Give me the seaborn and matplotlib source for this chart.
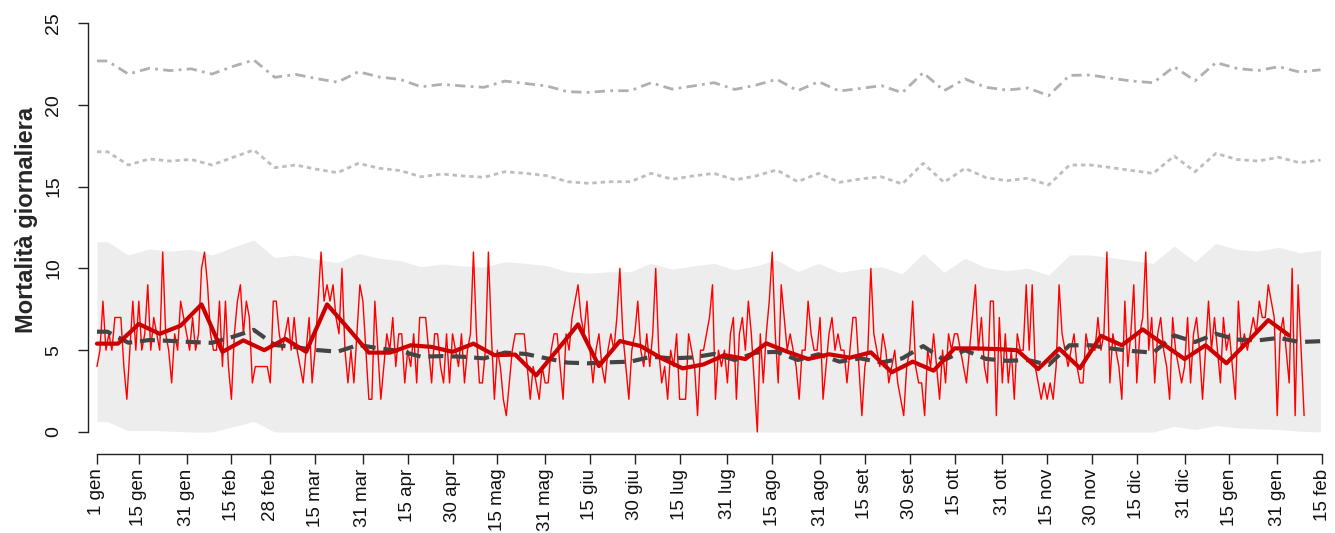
import numpy as np
import pandas as pd
import matplotlib
matplotlib.use("Agg")
import matplotlib.pyplot as plt
import seaborn as sns

# Daily death counts from 1 January to early February of the following year
daily_deaths = [
    4, 5, 8, 5, 6, 5, 7, 7, 7, 4,
    2, 5, 8, 5, 8, 5, 6, 9, 5, 7,
    6, 5, 11, 6, 5, 3, 6, 5, 8, 7,
    6, 5, 7, 5, 6, 10, 11, 9, 6, 5,
    5, 8, 4, 8, 4, 2, 6, 8, 9, 6,
    8, 7, 3, 4, 4, 4, 4, 4, 3, 8,
    8, 6, 5, 6, 7, 5, 7, 5, 4, 3,
    5, 7, 3, 5, 8, 11, 8, 9, 8, 9,
    7, 6, 10, 5, 3, 5, 3, 6, 9, 8,
    5, 2, 2, 8, 5, 2, 4, 6, 5, 7,
    4, 6, 6, 3, 5, 4, 6, 3, 7, 7,
    7, 5, 3, 6, 6, 4, 3, 6, 3, 6,
    5, 4, 6, 3, 5, 6, 11, 6, 3, 3,
    5, 11, 6, 2, 5, 4, 2, 1, 3, 5,
    6, 6, 6, 6, 4, 2, 4, 3, 2, 4,
    3, 3, 5, 6, 6, 4, 2, 6, 5, 7,
    8, 9, 7, 6, 8, 5, 3, 5, 6, 4,
    3, 5, 6, 5, 7, 10, 6, 4, 2, 5,
    6, 8, 5, 4, 6, 4, 6, 10, 5, 3,
    4, 2, 5, 4, 6, 2, 2, 2, 6, 5,
    4, 1, 5, 5, 6, 7, 9, 2, 5, 4,
    5, 3, 6, 7, 2, 6, 7, 5, 8, 6,
    3, 0, 6, 3, 6, 8, 11, 6, 3, 9,
    7, 5, 6, 5, 4, 2, 5, 5, 8, 6,
    5, 5, 7, 2, 4, 6, 7, 5, 6, 5,
    5, 3, 5, 7, 7, 4, 1, 4, 5, 10,
    6, 5, 4, 6, 5, 3, 4, 5, 3, 2,
    1, 4, 5, 8, 4, 3, 3, 1, 5, 4,
    6, 4, 2, 5, 3, 6, 5, 6, 6, 5,
    4, 3, 5, 7, 9, 5, 7, 4, 3, 8,
    8, 1, 7, 3, 6, 3, 5, 2, 6, 5,
    5, 9, 5, 9, 4, 3, 2, 3, 2, 3,
    2, 4, 9, 6, 5, 4, 5, 6, 4, 3,
    3, 6, 5, 5, 5, 7, 5, 6, 11, 3,
    6, 5, 4, 2, 8, 4, 6, 9, 3, 6,
    7, 11, 5, 7, 3, 6, 7, 5, 4, 2,
    7, 5, 4, 3, 4, 7, 3, 6, 7, 5,
    2, 5, 8, 5, 7, 5, 3, 7, 5, 6,
    4, 2, 8, 5, 6, 5, 6, 7, 6, 8,
    7, 7, 9, 8, 7, 1, 6, 7, 5, 3,
    10, 1, 9, 5, 1,
]

# Weekly mean of the daily counts (one value every 7 days)
weekly_mean = [
    5.4, 5.4, 6.6, 6.0, 6.5, 7.8, 4.9, 5.6, 5.0, 5.7,
    4.9, 7.8, 6.35, 4.85, 4.85, 5.3, 5.2, 4.9, 5.4, 4.7,
    4.73, 3.46, 5.0, 6.58, 4.03, 5.56, 5.25, 4.5, 3.89, 4.13,
    4.7, 4.46, 5.42, 4.91, 4.46, 4.75, 4.54, 4.87, 3.65, 4.3,
    3.75, 5.11, 5.11, 5.07, 5.0, 3.85, 5.1, 3.9, 5.88, 5.3,
    6.27, 5.35, 4.46, 5.3, 4.2, 5.5, 6.84, 5.9,
]

# Weekly reference values (placed at mid-week)
expected = [
    6.13, 5.46, 5.62, 5.57, 5.5, 5.45, 5.82, 6.24, 5.32, 5.18,
    5.01, 4.91, 5.32, 5.11, 4.95, 4.6, 4.64, 4.6, 4.5, 4.85,
    4.77, 4.5, 4.24, 4.2, 4.26, 4.3, 4.6, 4.5, 4.56, 4.77,
    4.4, 4.85, 4.9, 4.4, 4.75, 4.3, 4.5, 4.25, 4.5, 5.25,
    4.4, 5.0, 4.47, 4.35, 4.4, 4.1, 5.3, 5.3, 5.1, 4.95,
    4.85, 5.9, 5.5, 6.0, 5.65, 5.6, 5.75, 5.5, 5.55,
]
band_low = [
    0.63, 0.08, 0.1, 0.05, 0.0, 0.0, 0.32, 0.65, 0.0, 0.0,
    0.0, 0.0, 0.0, 0.0, 0.0, 0.0, 0.0, 0.0, 0.0, 0.0,
    0.0, 0.0, 0.0, 0.0, 0.0, 0.0, 0.0, 0.0, 0.0, 0.0,
    0.0, 0.0, 0.0, 0.0, 0.0, 0.0, 0.0, 0.0, 0.0, 0.0,
    0.0, 0.0, 0.0, 0.0, 0.0, 0.0, 0.0, 0.0, 0.0, 0.0,
    0.0, 0.35, 0.15, 0.4, 0.25, 0.2, 0.15, 0.05, 0.0,
]
band_high = [
    11.63, 10.82, 11.19, 11.06, 11.16, 10.82, 11.29, 11.74, 10.66, 10.82,
    10.56, 10.35, 10.92, 10.62, 10.48, 10.1, 10.27, 10.15, 10.07, 10.41,
    10.31, 10.17, 9.8, 9.7, 9.8, 9.8, 10.31, 9.95, 10.15, 10.31,
    9.91, 10.15, 10.52, 9.8, 10.31, 9.76, 9.97, 10.1, 9.66, 10.92,
    9.76, 10.62, 10.05, 9.86, 10.01, 9.6, 10.82, 10.82, 10.66, 10.48,
    10.31, 11.37, 10.41, 11.53, 11.16, 11.06, 11.29, 10.96, 11.12,
]
threshold_mid = [
    17.13, 16.32, 16.69, 16.56, 16.66, 16.32, 16.79, 17.24, 16.16, 16.32,
    16.06, 15.85, 16.42, 16.12, 15.98, 15.6, 15.77, 15.65, 15.57, 15.91,
    15.81, 15.67, 15.3, 15.2, 15.3, 15.3, 15.81, 15.45, 15.65, 15.81,
    15.41, 15.65, 16.02, 15.3, 15.81, 15.26, 15.47, 15.6, 15.16, 16.42,
    15.26, 16.12, 15.55, 15.36, 15.51, 15.1, 16.32, 16.32, 16.16, 15.98,
    15.81, 16.87, 15.91, 17.03, 16.66, 16.56, 16.79, 16.46, 16.62,
]
threshold_high = [
    22.68, 21.88, 22.23, 22.09, 22.2, 21.88, 22.35, 22.74, 21.68, 21.86,
    21.6, 21.38, 22.02, 21.7, 21.55, 21.1, 21.25, 21.15, 21.07, 21.45,
    21.3, 21.15, 20.8, 20.76, 20.86, 20.86, 21.35, 20.96, 21.15, 21.35,
    20.94, 21.2, 21.56, 20.86, 21.41, 20.84, 21.0, 21.17, 20.74, 21.96,
    20.86, 21.58, 21.07, 20.9, 21.03, 20.56, 21.8, 21.82, 21.62, 21.45,
    21.35, 22.33, 21.47, 22.58, 22.23, 22.09, 22.33, 22.0, 22.14,
]

start_date = "2019-01-01"
tick_dates = [
    "2019-01-01", "2019-01-15", "2019-01-31", "2019-02-15", "2019-02-28",
    "2019-03-15", "2019-03-31", "2019-04-15", "2019-04-30", "2019-05-15",
    "2019-05-31", "2019-06-15", "2019-06-30", "2019-07-15", "2019-07-31",
    "2019-08-15", "2019-08-31", "2019-09-15", "2019-09-30", "2019-10-15",
    "2019-10-31", "2019-11-15", "2019-11-30", "2019-12-15", "2019-12-31",
    "2020-01-15", "2020-01-31", "2020-02-15",
]
tick_labels = [
    "1 gen", "15 gen", "31 gen", "15 feb", "28 feb", "15 mar", "31 mar",
    "15 apr", "30 apr", "15 mag", "31 mag", "15 giu", "30 giu", "15 lug",
    "31 lug", "15 ago", "31 ago", "15 set", "30 set", "15 ott", "31 ott",
    "15 nov", "30 nov", "15 dic", "31 dic", "15 gen", "31 gen", "15 feb",
]

# ---- positions on a day axis --------------------------------------------
t0 = pd.Timestamp(start_date)
tick_pos = [(pd.Timestamp(d) - t0).days for d in tick_dates]
day = np.arange(len(daily_deaths))
week_start = np.arange(len(weekly_mean)) * 7
# reference series: value held from day 0, then one point per mid-week
mid_week = np.r_[0.0, 3.5 + 7 * np.arange(len(expected))]


def from_day0(values):
    return np.r_[values[0], values]


sns.set_theme(style="ticks")
plt.rcParams["font.family"] = ["Liberation Sans", "DejaVu Sans"]

W, H = 1335, 533
fig = plt.figure(figsize=(W / 100, H / 100), dpi=100)
ax = fig.add_axes([88 / W, 79 / H, (1331 - 88) / W, 453 / H])
ax.set_facecolor("white")

# interval band
ax.fill_between(mid_week, from_day0(band_low), from_day0(band_high),
                color="#EDEDED", linewidth=0, zorder=1)

# upper thresholds
sns.lineplot(x=mid_week, y=from_day0(threshold_high), ax=ax, color="#B0B0B0",
             linewidth=2.0, estimator=None, sort=False, zorder=2)
ax.get_lines()[-1].set_dashes([3.7, 1.9, 1.0, 1.9])
sns.lineplot(x=mid_week, y=from_day0(threshold_mid), ax=ax, color="#BEBEBE",
             linewidth=2.0, estimator=None, sort=False, zorder=2)
ax.get_lines()[-1].set_dashes([1.6, 1.4])

# daily counts
sns.lineplot(x=day, y=daily_deaths, ax=ax, color="#FF0000", linewidth=1.0,
             estimator=None, sort=False, zorder=3)

# expected level
sns.lineplot(x=mid_week, y=from_day0(expected), ax=ax, color="#444444",
             linewidth=3.0, estimator=None, sort=False, zorder=4)
ax.get_lines()[-1].set_dashes([3.6, 1.9])

# weekly mean
sns.lineplot(x=week_start, y=weekly_mean, ax=ax, color="#CC0000",
             linewidth=3.0, estimator=None, sort=False, zorder=5)

ax.set_xlim(-3, 413)
ax.set_ylim(-1.345, 26.345)

ax.set_yticks(range(0, 26, 5))
ax.set_yticklabels([str(v) for v in range(0, 26, 5)], rotation=90, va="center")
ax.set_xticks(tick_pos)
ax.set_xticklabels(tick_labels, rotation=90, ha="center", va="top")

ax.tick_params(axis="both", length=7.5, width=1, color="#222222",
               labelcolor="#111111")
ax.tick_params(axis="y", pad=11, labelsize=14)
ax.tick_params(axis="x", pad=3, labelsize=13.5)

for side in ("top", "right"):
    ax.spines[side].set_visible(False)
ax.spines["left"].set_bounds(0, 25)
ax.spines["bottom"].set_bounds(tick_pos[0], tick_pos[-1])
for side in ("left", "bottom"):
    ax.spines[side].set_color("#222222")
    ax.spines[side].set_linewidth(1.0)

ax.set_xlabel("")
ax.set_ylabel("Mortalità giornaliera", fontsize=17, fontweight="bold")
ax.yaxis.set_label_coords(-0.040, 0.517)

fig.savefig("out.png", dpi=100, facecolor="white")
